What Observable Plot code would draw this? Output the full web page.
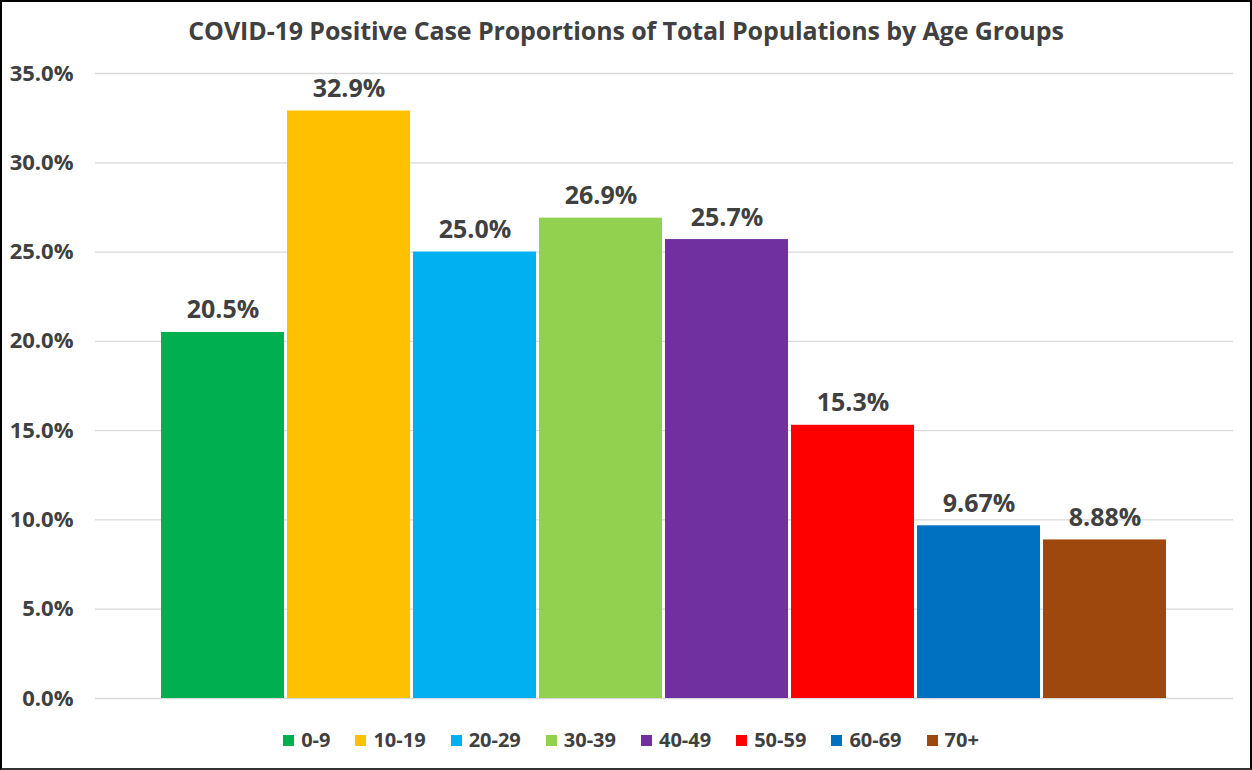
<!DOCTYPE html>
<html>
<head>
<meta charset="utf-8">
<script src="https://cdn.jsdelivr.net/npm/d3@7"></script>
<script src="https://cdn.jsdelivr.net/npm/@observablehq/plot@0.6"></script>
<style>
  html, body { margin: 0; padding: 0; background: #fff; }
  #wrap { position: relative; width: 1252px; height: 770px; overflow: hidden; font-family: "Open Sans", sans-serif; }
  #wrap svg { position: absolute; left: 0; top: 0; }
  #title { position: absolute; left: 0; width: 1252px; top: 18px; line-height: 1; text-align: center; font-weight: 700; font-size: 25px; color: #404040; letter-spacing: -0.1px; }
  #legend { position: absolute; top: 730px; left: 0; width: 1262px; line-height: 20px; display: flex; justify-content: center; gap: 25px; font-weight: 700; font-size: 20px; color: #404040; }
  #legend .item { display: flex; align-items: center; gap: 7px; }
  #legend .sw { width: 11px; height: 11px; display: inline-block; }
  #border { position: absolute; inset: 0; border: 2px solid #000; border-bottom-color: #333; pointer-events: none; }
</style>
</head>
<body>
<div id="wrap">
  <div id="title">COVID-19 Positive Case Proportions of Total Populations by Age Groups</div>
  <div id="legend"></div>
  <div id="border"></div>
</div>
<script>
const ageGroups = ["0-9", "10-19", "20-29", "30-39", "40-49", "50-59", "60-69", "70+"];
const proportions = [20.5, 32.9, 25.0, 26.9, 25.7, 15.3, 9.67, 8.88];
const valueLabels = ["20.5%", "32.9%", "25.0%", "26.9%", "25.7%", "15.3%", "9.67%", "8.88%"];
const colors = ["#00b050", "#ffc000", "#00b0f0", "#92d050", "#7030a0", "#ff0000", "#0070c0", "#9e480e"];
const yTicks = [0, 5, 10, 15, 20, 25, 30, 35];

const data = ageGroups.map((g, i) => ({group: g, value: proportions[i], label: valueLabels[i]}));

const chart = Plot.plot({
  width: 1252,
  height: 770,
  marginTop: 73,
  marginBottom: 72,
  marginLeft: 95,
  marginRight: 19,
  style: {fontFamily: "Open Sans, sans-serif", background: "transparent", overflow: "visible"},
  x: {domain: ageGroups, paddingInner: 0.02, paddingOuter: 0.5, axis: null},
  y: {domain: [0, 35], ticks: yTicks, label: null, axis: null},
  color: {domain: ageGroups, range: colors},
  marks: [
    Plot.gridY(yTicks, {stroke: "#d9d9d9", strokeOpacity: 1, strokeWidth: 1.3}),
    Plot.text(yTicks, {y: d => d, text: d => d.toFixed(1) + "%", frameAnchor: "left", textAnchor: "end", dx: -22, fontSize: 22, fontWeight: 700, fill: "#404040"}),
    Plot.barY(data, {x: "group", y: "value", fill: "group"}),
    Plot.text(data, {x: "group", y: "value", text: "label", lineAnchor: "bottom", dy: -14, fontSize: 25, fontWeight: 700, fill: "#404040"})
  ]
});
document.getElementById("wrap").prepend(chart);

const legend = document.getElementById("legend");
ageGroups.forEach((g, i) => {
  const item = document.createElement("div");
  item.className = "item";
  const sw = document.createElement("span");
  sw.className = "sw";
  sw.style.background = colors[i];
  const t = document.createElement("span");
  t.textContent = g;
  item.append(sw, t);
  legend.append(item);
});
</script>
</body>
</html>
